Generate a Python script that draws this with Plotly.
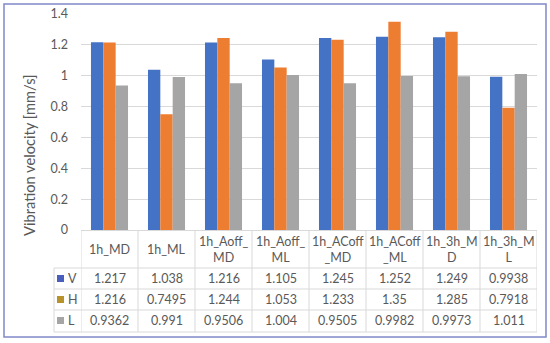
import plotly.graph_objects as go

categories = ["1h_MD", "1h_ML", "1h_Aoff_MD", "1h_Aoff_ML", "1h_ACoff_MD", "1h_ACoff_ML", "1h_3h_MD", "1h_3h_ML"]
header_labels = ["1h_MD", "1h_ML", "1h_Aoff_<br>MD", "1h_Aoff_<br>ML", "1h_ACoff<br>_MD", "1h_ACoff<br>_ML", "1h_3h_M<br>D", "1h_3h_M<br>L"]
series_names = ["V", "H", "L"]
V = [1.217, 1.038, 1.216, 1.105, 1.245, 1.252, 1.249, 0.9938]
H = [1.216, 0.7495, 1.244, 1.053, 1.233, 1.35, 1.285, 0.7918]
L = [0.9362, 0.991, 0.9506, 1.004, 0.9505, 0.9982, 0.9973, 1.011]
V_txt = ["1.217", "1.038", "1.216", "1.105", "1.245", "1.252", "1.249", "0.9938"]
H_txt = ["1.216", "0.7495", "1.244", "1.053", "1.233", "1.35", "1.285", "0.7918"]
L_txt = ["0.9362", "0.991", "0.9506", "1.004", "0.9505", "0.9982", "0.9973", "1.011"]
y_ticks = [0, 0.2, 0.4, 0.6, 0.8, 1, 1.2, 1.4]
y_tick_text = ["0", "0.2", "0.4", "0.6", "0.8", "1", "1.2", "1.4"]

colors = ["#4472C4", "#ED7D31", "#A5A5A5"]
legend_colors = ["#4A5EBE", "#B8932B", "#A5A5A5"]
FONT = "Lato"
TXT = "#595959"
TS = 12.5
W, Hh = 550, 343
L_M, R_M, T_M, B_M = 81, 13, 14, 113
PW = W - L_M - R_M
PH = Hh - T_M - B_M

def px(x):
    return (x - L_M) / PW

def py(y):
    return (Hh - B_M - y) / PH

fig = go.Figure()
for name, vals, col in zip(series_names, [V, H, L], colors):
    fig.add_trace(go.Bar(x=categories, y=vals, name=name, marker=dict(color=col, line=dict(width=0))))

shapes = []
annotations = []
grid = "#D9D9D9"
row_y = [230, 268, 289, 310, 332]
for yy in row_y[1:]:
    shapes.append(dict(type="line", xref="paper", yref="paper", x0=px(54), x1=1, y0=py(yy), y1=py(yy), line=dict(color=grid, width=1)))
shapes.append(dict(type="line", xref="paper", yref="paper", x0=px(54), x1=px(54), y0=py(268), y1=py(332), line=dict(color=grid, width=1)))
for k in range(len(categories) + 1):
    shapes.append(dict(type="line", xref="x", yref="paper", x0=k - 0.5, x1=k - 0.5, y0=py(230), y1=py(332), line=dict(color=grid, width=1)))
shapes.append(dict(type="rect", xref="paper", yref="paper", x0=px(4), x1=px(546), y0=py(4), y1=py(337), line=dict(color="#8088C8", width=1.5)))

for c, lab in zip(categories, header_labels):
    annotations.append(dict(x=c, y=py(249), xref="x", yref="paper", text=lab, showarrow=False, font=dict(family=FONT, size=TS, color=TXT), align="center", yanchor="middle"))
row_centers = [278.5, 299.5, 320.5]
for txts, yc in zip([V_txt, H_txt, L_txt], row_centers):
    for c, t in zip(categories, txts):
        annotations.append(dict(x=c, y=py(yc), xref="x", yref="paper", text=t, showarrow=False, font=dict(family=FONT, size=TS, color=TXT), yanchor="middle"))
for name, col, yc in zip(series_names, legend_colors, row_centers):
    shapes.append(dict(type="rect", xref="paper", yref="paper", x0=px(57), x1=px(64), y0=py(yc - 3.5), y1=py(yc + 3.5), fillcolor=col, line=dict(width=0)))
    annotations.append(dict(x=px(66), y=py(yc), xref="paper", yref="paper", text=name, showarrow=False, xanchor="left", font=dict(family=FONT, size=TS, color=TXT), yanchor="middle"))
annotations.append(dict(x=px(29), y=py(155), xref="paper", yref="paper", text="Vibration velocity [mm/s]", textangle=-90, showarrow=False, font=dict(family=FONT, size=14.7, color=TXT), xanchor="center", yanchor="middle"))

fig.update_layout(
    width=W, height=Hh,
    margin=dict(l=L_M, r=R_M, t=T_M, b=B_M, autoexpand=False),
    paper_bgcolor="white", plot_bgcolor="white",
    barmode="group", bargap=0.35, bargroupgap=0,
    showlegend=False,
    shapes=shapes, annotations=annotations,
    font=dict(family=FONT, color=TXT),
)
fig.update_xaxes(range=[-0.5, 7.5], showticklabels=False, showgrid=False, showline=True, linecolor=grid, linewidth=1, ticks="", zeroline=False, automargin=False)
fig.update_yaxes(range=[0, 1.4], tickvals=y_ticks, ticktext=y_tick_text, showgrid=True, gridcolor=grid, gridwidth=1, zeroline=False, showline=False, tickfont=dict(family=FONT, size=12.5, color=TXT), ticklabelstandoff=12, automargin=False)

fig.write_html("out.html", config={"displayModeBar": False},
               post_script="document.body.style.margin='0';document.body.style.overflow='hidden';")
